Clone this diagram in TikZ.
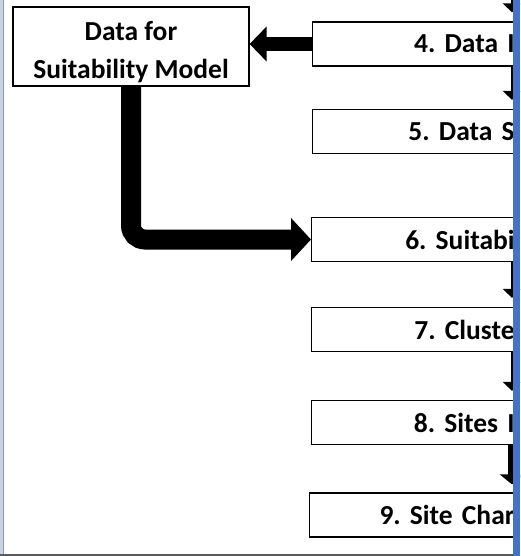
\documentclass[tikz,border=0pt]{standalone}
\usepackage{fontspec}
\setmainfont{Carlito}
\usetikzlibrary{arrows.meta}
\definecolor{barblue}{RGB}{68,114,196}
\definecolor{framelight}{RGB}{197,211,227}
\definecolor{frameline}{RGB}{142,154,168}
\definecolor{framebottom}{RGB}{89,89,89}
\begin{document}
\begin{tikzpicture}[x=1pt,y=-1pt,
  lbl/.style={font=\frenchspacing\bfseries\fontsize{27.5}{38}\selectfont},
  stepbox/.style={lbl, draw=black, line width=1.2pt, anchor=west,
    minimum height=44pt, inner xsep=0pt, inner ysep=0pt, align=right},
  fatA/.style={line width=14pt, -{Triangle[length=17pt,width=34pt]}},
  fatB/.style={line width=20pt, rounded corners=14pt, -{Triangle[length=20pt,width=42pt]}},
  flow/.style={line width=3pt, shorten >=9pt, -{Triangle[length=9pt,width=18pt]}},
  flowwide/.style={line width=8pt, shorten >=8pt, -{Triangle[length=10pt,width=24pt]}}]
\useasboundingbox (0,0) rectangle (520,556);
\clip (0,0) rectangle (520,556);

% input data box
\node[draw=black, line width=1.2pt, minimum width=236pt, minimum height=79pt,
  inner sep=0pt] (dsm) at (131,46.5) {};
\node[lbl, align=center] (dsmtext) at ([yshift=-5.5pt]dsm.center)
  {Data for\\Suitability Model};

% process steps
\node[stepbox, text width=202pt] (b4) at (312,44) {4. Data I};
\node[stepbox, text width=202pt] (b5) at (312,131.5) {5. Data S};
\node[stepbox, text width=203pt] (b6) at (311,239.5) {6. Suitabi};
\node[stepbox, text width=203pt] (b7) at (311,329.5) {7. Cluste};
\node[stepbox, text width=203pt] (b8) at (311,422.5) {8. Sites I};
\node[stepbox, text width=205pt] (b9) at (309,515) {9. Site Char};

% thick connectors
\draw[fatA] (b4.west) -- (b4.west -| dsm.east);
\draw[fatB] (dsm.south) |- (b6.west);

% flow along the right edge
\coordinate (rail) at (512,0);
\coordinate (in4) at (512,-4);
\draw[flow] (in4) -- (b4.north -| rail);
\draw[flow] (b4.south -| rail) -- (b5.north -| rail);
\draw[flow] (b6.south -| rail) -- (b7.north -| rail);
\draw[flow] (b7.south -| rail) -- (b8.north -| rail);
\draw[flowwide] (b8.south -| rail) -- (b9.north -| rail);

% window frame
\fill[framelight] (0,0) rectangle (3,556);
\fill[frameline] (3,0) rectangle (4.3,556);
\fill[framebottom] (0,553.5) rectangle (520,556);
\fill[barblue] (512.5,0) rectangle (520,556);
\end{tikzpicture}
\end{document}
